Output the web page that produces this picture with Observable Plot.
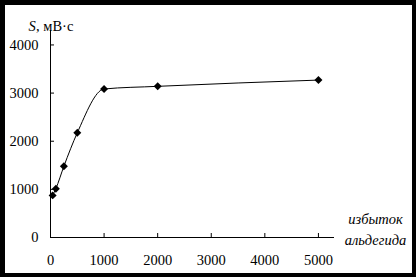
<!DOCTYPE html>
<html>
<head>
<meta charset="utf-8">
<script src="https://cdn.jsdelivr.net/npm/d3@7"></script>
<script src="https://cdn.jsdelivr.net/npm/@observablehq/plot@0.6"></script>
<style>
  html, body { margin: 0; padding: 0; background: #000; width: 416px; height: 277px; overflow: hidden; }
  #paper { position: absolute; left: 5px; top: 5px; width: 407px; height: 268px; background: #fff; }
  #chart { position: absolute; left: 0; top: 0; }
</style>
</head>
<body>
<div id="paper"></div>
<div id="chart"></div>
<script>
// Data
const aldehydeExcess = [40, 100, 250, 500, 1000, 2000, 5000];
const signalS = [875, 1015, 1480, 2175, 3085, 3140, 3270];
const xTicks = [0, 1000, 2000, 3000, 4000, 5000];
const yTicks = [0, 1000, 2000, 3000, 4000];
const yLabelItalic = "S";
const yLabelRest = ", мВ·с";
const xLabel = "избыток\nальдегида";

const points = aldehydeExcess.map((x, i) => ({x, s: signalS[i]}));

const font = "'Liberation Serif', 'Times New Roman', serif";
const plain = d => String(d);

const chart = Plot.plot({
  width: 416,
  height: 277,
  marginLeft: 50,
  marginRight: 82,
  marginTop: 30,
  marginBottom: 40,
  x: {domain: [0, 5300]},
  y: {domain: [0, 4300]},
  style: {background: "transparent", fontFamily: font, fontSize: "14.5px", color: "black", overflow: "visible"},
  marks: [
    // axis lines
    Plot.ruleY([0], {stroke: "black", strokeWidth: 1}),
    Plot.ruleX([0], {stroke: "black", strokeWidth: 1}),
    // inward ticks
    Plot.ruleX(xTicks.slice(1), {x: d => d, y1: () => 0, y2: () => 0, insetBottom: 4, stroke: "black"}),
    Plot.ruleY(yTicks.slice(1), {y: d => d, x1: () => 0, x2: () => 0, insetRight: -4, stroke: "black"}),
    // tick labels
    Plot.axisX(xTicks, {tickSize: 0, tickPadding: 17, label: null, fontSize: 14.5, tickFormat: plain}),
    Plot.axisY(yTicks, {tickSize: 0, tickPadding: 12, label: null, fontSize: 14.5, tickFormat: plain}),
    // curve and markers
    Plot.line(points, {x: "x", y: "s", curve: "monotone-x", stroke: "black", strokeWidth: 1}),
    Plot.dot(points, {x: "x", y: "s", symbol: "diamond2", r: 3.6, fill: "black", stroke: "none"}),
    // axis titles
    Plot.text([yLabelItalic], {frameAnchor: "top-left", dx: -22, dy: -10, textAnchor: "start", fontStyle: "italic", fontSize: 14.5, fill: "black"}),
    Plot.text([yLabelRest], {frameAnchor: "top-left", dx: -14.5, dy: -10, textAnchor: "start", fontSize: 14.5, fill: "black"}),
    Plot.text([xLabel], {frameAnchor: "bottom-right", dx: 41, dy: 7, textAnchor: "middle", fontStyle: "italic", fontSize: 14.5, lineHeight: 1.4, fill: "black"})
  ]
});
document.getElementById("chart").appendChild(chart);
</script>
</body>
</html>
